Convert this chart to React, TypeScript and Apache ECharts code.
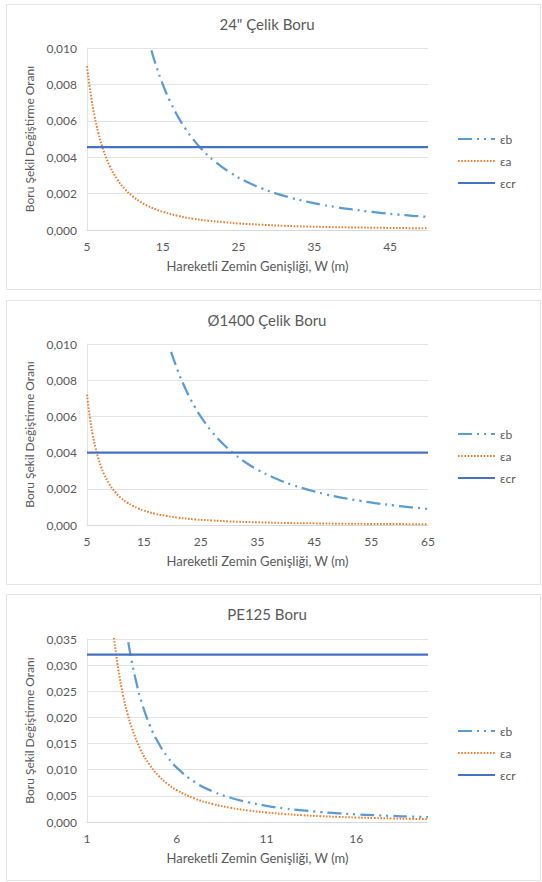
import React, { useEffect, useRef } from "react";
import * as echarts from "echarts";

// ---------- Data ----------
const titles = ['24" Çelik Boru', "Ø1400 Çelik Boru", "PE125 Boru"];
const seriesNames = ["εb", "εa", "εcr"];
const xAxisName = "Hareketli Zemin Genişliği, W (m)";
const yAxisName = "Boru Şekil Değiştirme Oranı";

// Panel 1: 24" steel pipe
const p1xTicks = [5, 15, 25, 35, 45];
const p1W_b = [13.5, 14, 15, 16, 17, 18, 19, 20, 22, 24, 26, 28, 30, 32, 34, 36, 38, 40, 42, 44, 46, 48, 50];
const p1E_b = [0.00988, 0.00918, 0.008, 0.00703, 0.00623, 0.00556, 0.00499, 0.0045, 0.00372, 0.00313, 0.00266, 0.0023, 0.002, 0.00176, 0.00156, 0.00139, 0.00125, 0.00113, 0.00102, 0.00093, 0.00085, 0.00078, 0.00072];
const p1W_a = [5, 5.5, 6, 6.5, 7, 7.5, 8, 9, 10, 11, 12, 13, 14, 15, 17, 19, 21, 23, 25, 28, 31, 34, 37, 40, 44, 48, 50];
const p1E_a = [0.009, 0.00744, 0.00625, 0.00533, 0.00459, 0.004, 0.00352, 0.00278, 0.00225, 0.00186, 0.00156, 0.00133, 0.00115, 0.001, 0.00078, 0.00062, 0.00051, 0.00043, 0.00036, 0.00029, 0.00023, 0.00019, 0.00016, 0.00014, 0.00012, 0.0001, 0.00009];
const p1W_cr = [5, 50];
const p1E_cr = [0.00455, 0.00455];

// Panel 2: Ø1400 steel pipe
const p2xTicks = [5, 15, 25, 35, 45, 55, 65];
const p2W_b = [19.8, 21, 22, 23, 24, 25, 27, 29, 31, 33, 35, 38, 41, 44, 47, 50, 53, 56, 59, 62, 65];
const p2E_b = [0.00957, 0.0085, 0.00775, 0.00709, 0.00651, 0.006, 0.00514, 0.00446, 0.0039, 0.00344, 0.00306, 0.0026, 0.00223, 0.00194, 0.0017, 0.0015, 0.00134, 0.0012, 0.00108, 0.00098, 0.00089];
const p2W_a = [5, 5.5, 6, 6.5, 7, 7.5, 8, 9, 10, 11, 12, 13, 14, 15, 17, 19, 21, 24, 27, 30, 35, 40, 45, 50, 55, 60, 65];
const p2E_a = [0.0072, 0.00595, 0.005, 0.00426, 0.00367, 0.0032, 0.00281, 0.00222, 0.0018, 0.00149, 0.00125, 0.00107, 0.00092, 0.0008, 0.00062, 0.0005, 0.00041, 0.00031, 0.00025, 0.0002, 0.00015, 0.00011, 0.00009, 0.00007, 0.00006, 0.00005, 0.00004];
const p2W_cr = [5, 65];
const p2E_cr = [0.004, 0.004];

// Panel 3: PE125 pipe
const p3xTicks = [1, 6, 11, 16];
const p3W_b = [3.3, 3.5, 3.75, 4, 4.5, 5, 5.5, 6, 7, 8, 9, 10, 11, 12, 13, 14, 15, 16, 17, 18, 19, 20];
const p3E_b = [0.0344, 0.0306, 0.0267, 0.0234, 0.0185, 0.015, 0.0124, 0.0104, 0.00765, 0.00586, 0.00463, 0.00375, 0.0031, 0.0026, 0.00222, 0.00191, 0.00167, 0.00146, 0.0013, 0.00116, 0.00104, 0.00094];
const p3W_a = [2.5, 2.75, 3, 3.25, 3.5, 4, 4.5, 5, 5.5, 6, 7, 8, 9, 10, 11, 12, 13, 14, 15, 16, 17, 18, 19, 20];
const p3E_a = [0.0352, 0.0291, 0.0244, 0.0208, 0.018, 0.01375, 0.0109, 0.0088, 0.00727, 0.00611, 0.00449, 0.00344, 0.00272, 0.0022, 0.00182, 0.00153, 0.0013, 0.00112, 0.00098, 0.00086, 0.00076, 0.00068, 0.00061, 0.00055];
const p3W_cr = [1, 20];
const p3E_cr = [0.032, 0.032];

const panels = [
  { xMin: 5, xMax: 50, xInt: 10, xTicks: p1xTicks, yMax: 0.01, yInt: 0.002,
    b: [p1W_b, p1E_b], a: [p1W_a, p1E_a], cr: [p1W_cr, p1E_cr] },
  { xMin: 5, xMax: 65, xInt: 10, xTicks: p2xTicks, yMax: 0.01, yInt: 0.002,
    b: [p2W_b, p2E_b], a: [p2W_a, p2E_a], cr: [p2W_cr, p2E_cr] },
  { xMin: 1, xMax: 20, xInt: 5, xTicks: p3xTicks, yMax: 0.035, yInt: 0.005,
    b: [p3W_b, p3E_b], a: [p3W_a, p3E_a], cr: [p3W_cr, p3E_cr] },
];

// ---------- Layout ----------
const FONT = "Lato, 'Open Sans', sans-serif";
const TXT = "#595959";
const boxes = [
  { y: 4, h: 285, gridTop: 48, gridH: 182, titleY: 24, legendTop: 128 },
  { y: 300, h: 284, gridTop: 344, gridH: 181, titleY: 320, legendTop: 423 },
  { y: 594, h: 286, gridTop: 639, gridH: 183, titleY: 614, legendTop: 720 },
];
const GRID_LEFT = 87;
const GRID_W = 341;

const zip = (xs: number[], ys: number[]) => xs.map((x, i) => [x, ys[i]]);

export default function App() {
  const ref = useRef<HTMLDivElement>(null);
  useEffect(() => {
    if (!ref.current) return;
    const chart = echarts.init(ref.current, null, { renderer: "svg" });

    const grid: any[] = [];
    const xAxis: any[] = [];
    const yAxis: any[] = [];
    const series: any[] = [];
    const legend: any[] = [];
    const graphic: any[] = [];

    panels.forEach((p, i) => {
      const bx = boxes[i];
      graphic.push({
        type: "rect", silent: true, z: 100,
        shape: { x: 6.5, y: bx.y + 0.5, width: 534, height: bx.h },
        style: { fill: "none", stroke: "#E3E3E3", lineWidth: 1 },
      });
      graphic.push({
        type: "text", silent: true,
        x: 267, y: bx.titleY,
        style: { text: titles[i], fontFamily: FONT, fontSize: 15, fill: TXT, textAlign: "center", textVerticalAlign: "middle" },
      });
      grid.push({ left: GRID_LEFT, top: bx.gridTop, width: GRID_W, height: bx.gridH });
      xAxis.push({
        type: "value", gridIndex: i, min: p.xMin, max: p.xMax, interval: p.xInt,
        name: xAxisName, nameLocation: "middle", nameGap: 29,
        nameTextStyle: { fontFamily: FONT, fontSize: 13, color: TXT },
        axisLine: { show: true, lineStyle: { color: "#D9D9D9", width: 1 } },
        axisTick: { show: false },
        splitLine: { show: false },
        axisLabel: {
          fontFamily: FONT, fontSize: 12, color: TXT, margin: 10,
          formatter: (v: number) => (p.xTicks.indexOf(Math.round(v * 1000) / 1000) >= 0 ? String(v) : ""),
        },
      });
      yAxis.push({
        type: "value", gridIndex: i, min: 0, max: p.yMax, interval: p.yInt,
        name: yAxisName, nameLocation: "middle", nameGap: 49, nameRotate: 90,
        nameTextStyle: { fontFamily: FONT, fontSize: 12, color: TXT },
        axisLine: { show: true, lineStyle: { color: "#E3E3E3", width: 1 } },
        axisTick: { show: false },
        splitLine: { show: true, lineStyle: { color: "#E3E3E3", width: 1 } },
        axisLabel: {
          fontFamily: FONT, fontSize: 12, color: TXT, margin: 10,
          formatter: (v: number) => v.toFixed(3).replace(".", ","),
        },
      });
      series.push({
        name: seriesNames[0], type: "line", xAxisIndex: i, yAxisIndex: i,
        data: zip(p.b[0], p.b[1]), smooth: true, symbol: "none",
        lineStyle: { color: "#5B9BD5", width: 2.25, type: [14, 5, 2, 5, 2, 5], cap: "butt" },
        itemStyle: { color: "#5B9BD5" },
      });
      series.push({
        name: seriesNames[1], type: "line", xAxisIndex: i, yAxisIndex: i,
        data: zip(p.a[0], p.a[1]), smooth: true, symbol: "none",
        lineStyle: { color: "#ED7D31", width: 2, type: [1.6, 1.6], cap: "butt" },
        itemStyle: { color: "#ED7D31" },
      });
      series.push({
        name: seriesNames[2], type: "line", xAxisIndex: i, yAxisIndex: i,
        data: zip(p.cr[0], p.cr[1]), symbol: "none",
        lineStyle: { color: "#4472C4", width: 2.25, type: "solid" },
        itemStyle: { color: "#4472C4" },
      });
      legend.push({
        orient: "vertical", left: 452, top: bx.legendTop,
        itemWidth: 37, itemHeight: 10, itemGap: 10,
        data: seriesNames,
        selectedMode: false,
        itemStyle: { opacity: 0 },
        textStyle: { fontFamily: FONT, fontSize: 12, color: TXT },
      });
    });

    chart.setOption({
      animation: false,
      backgroundColor: "#ffffff",
      grid, xAxis, yAxis, series, legend, graphic,
    });
    return () => chart.dispose();
  }, []);
  return <div ref={ref} style={{ position: "absolute", left: 0, top: 0, width: 542, height: 882 }} />;
}
